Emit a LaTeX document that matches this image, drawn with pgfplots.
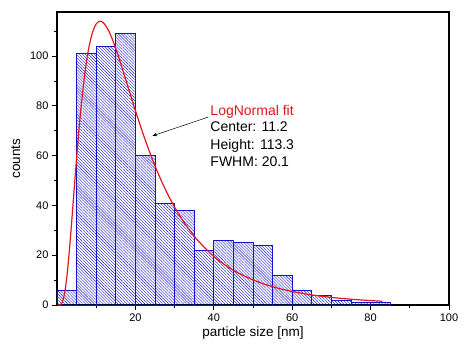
\documentclass[border=0pt]{standalone}
\usepackage{fontspec}
\setmainfont{Liberation Sans}
\usepackage{pgfplots}
\pgfplotsset{compat=1.18}
\usetikzlibrary{patterns.meta,arrows.meta}
\definecolor{fitred}{RGB}{230,20,30}
\definecolor{barblue}{RGB}{20,20,200}
\begin{document}
\begin{tikzpicture}
\begin{axis}[
  scale only axis, width=392pt, height=293pt,
  xmin=0, xmax=100, ymin=0, ymax=117.7,
  axis line style={line width=1.1pt},
  xtick={20,40,60,80,100}, minor xtick={10,30,50,70,90},
  ytick={0,20,40,60,80,100}, minor ytick={10,30,50,70,90,110},
  xtick pos=left, ytick pos=left, tick align=outside,
  major tick length=5pt, minor tick length=3pt,
  every tick/.style={black, line width=0.9pt},
  tick label style={font=\fontsize{11}{13}\selectfont},
  /pgf/number format/assume math mode=true,
  xlabel={particle size [nm]}, ylabel={counts},
  label style={font=\fontsize{13.5}{15}\selectfont},
  xlabel style={yshift=1pt},
  ylabel style={yshift=3pt},
  clip=false,
]
\addplot[ybar interval, draw=barblue, line width=0.7pt,
  pattern={Lines[angle=-45, distance=2.1pt, line width=0.4pt]}, pattern color=barblue]
coordinates {(0,6)(5,101)(10,104)(15,109)(20,60)(25,41)(30,38)(35,22)(40,26)(45,25)(50,24)(55,12)(60,6)(65,4)(70,1.8)(75,1.1)(80,1.1)(85,0)};
\addplot[fitred, line width=1.2pt, smooth, mark=none] coordinates {
(0.3,0)(1,0.26)(1.5,1.71)(2,5.27)(2.5,11.2)(3,19.1)(3.5,28.5)(4,38.6)(4.5,48.9)(5,59.0)(5.5,68.6)(6,77.3)(7,91.8)(8,102.4)(9,109.2)(10,112.9)(11,114)(12,113.1)(13,110.7)(14,107.2)(15,103.0)(16,98.3)(17,93.3)(18,88.2)(19,83.1)(20,78.1)(22,68.6)(24,59.9)(26,52.1)(28,45.3)(30,39.3)(33,31.8)(36,25.8)(40,19.5)(44,14.9)(48,11.5)(52,8.87)(56,6.91)(60,5.42)(65,4.04)(70,3.04)(75,2.31)(80,1.77)(83,1.51)};
\draw[-{Stealth[length=5pt,width=3.5pt]}, line width=0.5pt] (axis cs:38.6,75.5) -- (axis cs:24.3,67.9);
\node[anchor=base west, inner sep=0pt, text=fitred, font=\fontsize{14}{16}\selectfont] at (axis cs:39.1,76.3) {LogNormal fit};
\node[anchor=base west, inner sep=0pt, font=\fontsize{14}{16}\selectfont] at (axis cs:39.1,69.5) {Center: 11.2};
\node[anchor=base west, inner sep=0pt, font=\fontsize{14}{16}\selectfont] at (axis cs:39.1,62.65) {Height: 113.3};
\node[anchor=base west, inner sep=0pt, font=\fontsize{14}{16}\selectfont] at (axis cs:39.1,55.8) {FWHM: 20.1};
\end{axis}
\pgfresetboundingbox
\path[use as bounding box] (-57pt,-53pt) rectangle (407pt,305pt);
\end{tikzpicture}
\end{document}
